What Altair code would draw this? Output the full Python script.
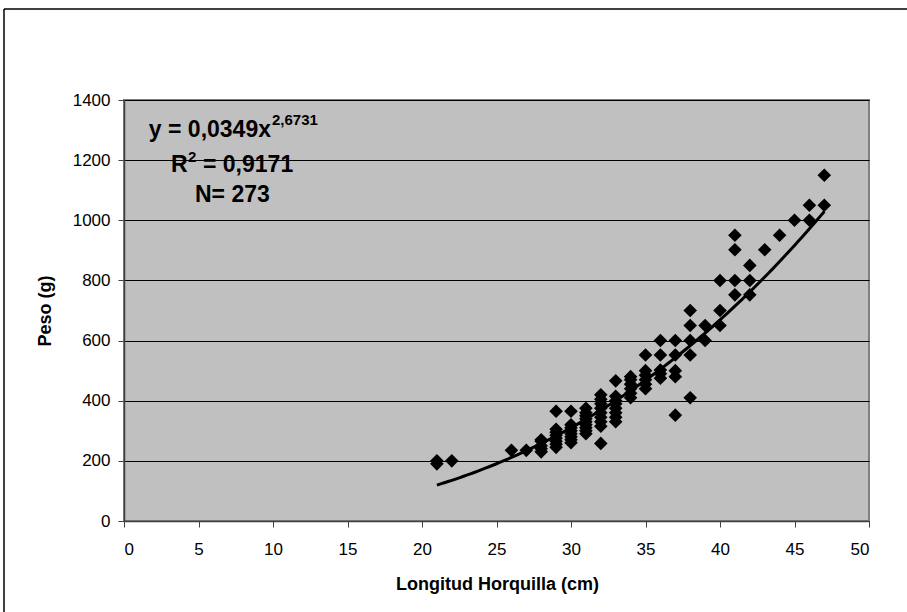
import altair as alt
import pandas as pd

# Longitud horquilla (cm) and peso (g)
lengths = (
    [21, 21, 22, 26, 27]
    + [28] * 5
    + [29] * 8
    + [30] * 8
    + [31] * 9
    + [32] * 9
    + [33] * 8
    + [34] * 6
    + [35] * 6
    + [36] * 5
    + [37] * 5
    + [38] * 5
    + [39] * 2
    + [40] * 3
    + [41] * 4
    + [42] * 3
    + [43, 44, 45, 46, 46, 47, 47]
)
weights = (
    [190, 200, 200, 235, 235]
    + [230, 240, 250, 265, 270]
    + [245, 255, 265, 275, 285, 295, 305, 365]
    + [260, 270, 280, 290, 300, 310, 320, 365]
    + [290, 300, 310, 320, 330, 340, 350, 360, 375]
    + [258, 315, 330, 345, 360, 375, 390, 405, 420]
    + [330, 345, 360, 375, 390, 400, 415, 466]
    + [410, 425, 440, 455, 470, 480]
    + [440, 455, 470, 485, 500, 552]
    + [475, 490, 502, 552, 600]
    + [352, 480, 500, 552, 600]
    + [410, 552, 600, 650, 700]
    + [600, 650]
    + [650, 700, 800]
    + [752, 800, 902, 950]
    + [752, 800, 850]
    + [902, 950, 1000, 1000, 1050, 1050, 1150]
)

# Power trend line shown on the chart: y = a * x^b
coef_a = 0.0349
coef_b = 2.6731
fit_start, fit_end = 21, 47

x_ticks = [0, 5, 10, 15, 20, 25, 30, 35, 40, 45, 50]
y_ticks = [0, 200, 400, 600, 800, 1000, 1200, 1400]

df = pd.DataFrame({"longitud": lengths, "peso": weights})

W, H = 745, 421
FONT = "Liberation Sans"

xscale = alt.Scale(domain=[0, 50], nice=False, zero=True)
yscale = alt.Scale(domain=[0, 1400], nice=False)

points = alt.Chart(df).mark_point(
    shape="diamond", filled=True, color="black", size=185, opacity=1
).encode(
    x=alt.X(
        "longitud:Q",
        scale=xscale,
        axis=alt.Axis(
            values=x_ticks,
            format="d",
            title="Longitud Horquilla (cm)",
            grid=False,
            tickSize=6,
            labelPadding=14.5,
            titleX=373,
            titleY=68,
            titleBaseline="alphabetic",
        ),
    ),
    y=alt.Y(
        "peso:Q",
        scale=yscale,
        axis=alt.Axis(
            values=y_ticks,
            format="d",
            title="Peso (g)",
            grid=True,
            tickSize=6,
            labelPadding=8,
            titleX=-74,
            titleY=210.5,
            titleBaseline="alphabetic",
        ),
    ),
)

trend = (
    alt.Chart(alt.sequence(fit_start, fit_end + 0.01, 0.25, as_="longitud"))
    .transform_calculate(peso=f"{coef_a} * pow(datum.longitud, {coef_b})")
    .mark_line(color="black", strokeWidth=3)
    .encode(x=alt.X("longitud:Q", scale=xscale), y=alt.Y("peso:Q", scale=yscale))
)

one = alt.Data(values=[{}])


def txt(s, x, y, size, align="left"):
    return alt.Chart(one).mark_text(
        text=s, font=FONT, fontSize=size, fontWeight="bold", align=align,
        baseline="alphabetic", color="black",
    ).encode(x=alt.value(x), y=alt.value(y))


labels = [
    txt("y = 0,0349x", 147, 37, 23, align="right"),
    txt("2,6731", 148, 25, 15),
    txt("R", 47, 72, 23),
    txt("2", 64, 62, 15),
    txt("= 0,9171", 79, 72, 23),
    txt("N= 273", 71, 102, 23),
]

frame_top = alt.Chart(one).mark_rule(color="black", strokeWidth=1.5).encode(
    x=alt.value(-120), x2=alt.value(800), y=alt.value(-91)
)
frame_left = alt.Chart(one).mark_rule(color="black", strokeWidth=1.5).encode(
    x=alt.value(-120), y=alt.value(-91), y2=alt.value(520)
)

chart = (
    alt.layer(frame_top, frame_left, points, trend, *labels)
    .properties(
        width=W,
        height=H,
        autosize=alt.AutoSizeParams(type="none"),
        padding={"left": 124, "top": 100, "right": 38, "bottom": 91},
        background="white",
    )
    .configure_view(fill="#c0c0c0", stroke="#808080", strokeWidth=2)
    .configure_axis(
        labelFont=FONT,
        titleFont=FONT,
        labelFontSize=17,
        titleFontSize=18,
        titleFontWeight="bold",
        labelColor="black",
        titleColor="black",
        domainColor="#404040",
        tickColor="#404040",
        domainWidth=1.5,
        gridColor="black",
        gridWidth=1,
    )
)

chart.save("out.html", embed_options={"renderer": "svg", "actions": False})
